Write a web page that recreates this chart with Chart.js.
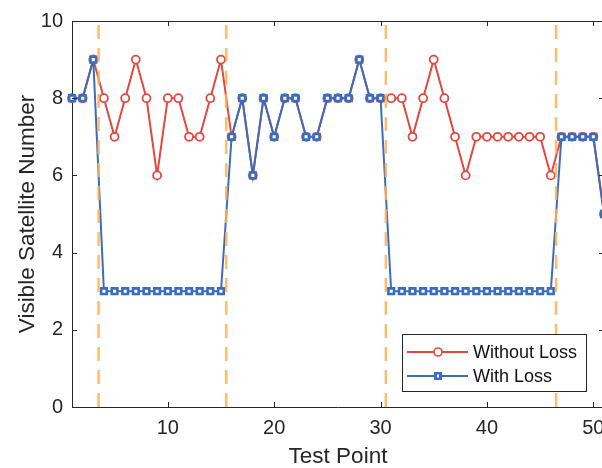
<!DOCTYPE html>
<html>
<head>
<meta charset="utf-8">
<script src="https://cdn.jsdelivr.net/npm/chart.js@4.4.0/dist/chart.umd.min.js"></script>
<style>
  html, body { margin: 0; padding: 0; background: #fff; overflow: hidden; }
  #wrap { width: 620px; height: 468px; }
</style>
</head>
<body>
<div id="wrap"><canvas id="chart"></canvas></div>
<script>
// Test points along the route
const testPoints = [1, 2, 3, 4, 5, 6, 7, 8, 9, 10, 11, 12, 13, 14, 15, 16, 17, 18, 19, 20,
  21, 22, 23, 24, 25, 26, 27, 28, 29, 30, 31, 32, 33, 34, 35, 36, 37, 38, 39, 40,
  41, 42, 43, 44, 45, 46, 47, 48, 49, 50, 51];

// Visible satellites, no signal loss
const withoutLoss = [8, 8, 9, 8, 7, 8, 9, 8, 6, 8, 8, 7, 7, 8, 9, 7, 8, 6, 8, 7,
  8, 8, 7, 7, 8, 8, 8, 9, 8, 8, 8, 8, 7, 8, 9, 8, 7, 6, 7, 7,
  7, 7, 7, 7, 7, 6, 7, 7, 7, 7, 5];

// Visible satellites with signal loss
const withLoss = [8, 8, 9, 3, 3, 3, 3, 3, 3, 3, 3, 3, 3, 3, 3, 7, 8, 6, 8, 7,
  8, 8, 7, 7, 8, 8, 8, 9, 8, 8, 3, 3, 3, 3, 3, 3, 3, 3, 3, 3,
  3, 3, 3, 3, 3, 3, 7, 7, 7, 7, 5];

// Boundaries of the blocked sections
const lossBounds = [3.5, 15.5, 30.5, 46.5];

const xTicks = [10, 20, 30, 40, 50];
const yTicks = [0, 2, 4, 6, 8, 10];

const COLORS = {
  red: '#e2483f',
  blue: '#3a6ebd',
  orange: 'rgba(252, 176, 88, 0.85)',
  axis: '#262626'
};

const FONT = 'Liberation Sans, Arial, Helvetica, sans-serif';

function toPoints(xs, ys) {
  return xs.map((x, i) => ({ x: x, y: ys[i] }));
}

const boundSets = lossBounds.map(b => ({
  label: 'bound',
  data: [{ x: b, y: yTicks[0] }, { x: b, y: yTicks[yTicks.length - 1] }],
  borderColor: COLORS.orange,
  borderWidth: 2.5,
  borderDash: [14, 9],
  pointRadius: 0,
  order: 0
}));

/**
 * Box, inward ticks and legend, drawn after the datasets
 */
const frame = {
  id: 'frame',
  afterDraw(chart) {
    const { ctx, chartArea: a, scales } = chart;
    ctx.save();
    ctx.strokeStyle = COLORS.axis;
    ctx.lineWidth = 1;
    ctx.beginPath();
    ctx.moveTo(a.left, a.top + 0.5);
    ctx.lineTo(a.right, a.top + 0.5);
    ctx.moveTo(a.right - 0.5, a.top);
    ctx.lineTo(a.right - 0.5, a.bottom);
    xTicks.forEach(v => {
      const px = Math.round(scales.x.getPixelForValue(v)) + 0.5;
      ctx.moveTo(px, a.bottom); ctx.lineTo(px, a.bottom - 5);
      ctx.moveTo(px, a.top); ctx.lineTo(px, a.top + 5);
    });
    yTicks.forEach(v => {
      const py = Math.round(scales.y.getPixelForValue(v)) + 0.5;
      ctx.moveTo(a.left, py); ctx.lineTo(a.left + 5, py);
      ctx.moveTo(a.right, py); ctx.lineTo(a.right - 5, py);
    });
    ctx.stroke();

    // legend box
    const bx = 402.5, by = 334.5, bw = 184, bh = 57;
    ctx.fillStyle = '#fff';
    ctx.fillRect(bx, by, bw, bh);
    ctx.strokeRect(bx, by, bw, bh);
    const rows = [
      { text: 'Without Loss', ds: chart.data.datasets[0], y: 352 },
      { text: 'With Loss', ds: chart.data.datasets[1], y: 376 }
    ];
    rows.forEach(r => {
      ctx.strokeStyle = r.ds.borderColor;
      ctx.lineWidth = 2;
      ctx.beginPath();
      ctx.moveTo(407, r.y);
      ctx.lineTo(468, r.y);
      ctx.stroke();
      ctx.lineWidth = 1.6;
      ctx.fillStyle = '#fff';
      if (r.ds.pointStyle === 'rect') {
        ctx.fillStyle = r.ds.borderColor;
        ctx.fillRect(434, r.y - 4, 8, 8);
        ctx.fillStyle = '#fff';
        ctx.fillRect(437, r.y - 1.5, 2, 3);
      } else {
        ctx.beginPath();
        ctx.arc(438, r.y, 4, 0, Math.PI * 2);
        ctx.fill();
        ctx.stroke();
      }
      ctx.fillStyle = '#111';
      ctx.font = '18px ' + FONT;
      ctx.textBaseline = 'middle';
      ctx.fillText(r.text, 473, r.y + 1);
    });
    ctx.restore();
  }
};

new Chart(document.getElementById('chart'), {
  type: 'line',
  data: {
    datasets: [
      {
        label: 'Without Loss',
        data: toPoints(testPoints, withoutLoss),
        borderColor: COLORS.red,
        backgroundColor: '#fff',
        borderWidth: 2,
        pointStyle: 'circle',
        pointRadius: 4,
        pointBorderWidth: 1.8,
        pointBackgroundColor: '#fff',
        order: 2
      },
      {
        label: 'With Loss',
        data: toPoints(testPoints, withLoss),
        borderColor: COLORS.blue,
        backgroundColor: COLORS.blue,
        borderWidth: 2,
        pointStyle: 'rect',
        pointRadius: 4,
        pointBorderWidth: 2.6,
        pointBackgroundColor: '#fff',
        order: 1
      },
      ...boundSets
    ]
  },
  options: {
    responsive: true,
    maintainAspectRatio: false,
    animation: false,
    events: [],
    clip: false,
    layout: { padding: { top: 20, right: 16, left: 10, bottom: -6 } },
    plugins: {
      legend: { display: false },
      tooltip: { enabled: false }
    },
    scales: {
      x: {
        type: 'linear',
        min: 1,
        max: 51,
        afterBuildTicks: s => { s.ticks = xTicks.map(v => ({ value: v })); },
        afterFit: s => { s.height = 67; },
        grid: { display: false, drawTicks: false },
        border: { display: true, color: COLORS.axis, width: 1 },
        ticks: { color: COLORS.axis, padding: 9, font: { family: FONT, size: 20 } },
        title: { display: true, text: 'Test Point', color: COLORS.axis, font: { family: FONT, size: 22.5 } }
      },
      y: {
        min: 0,
        max: 10,
        afterBuildTicks: s => { s.ticks = yTicks.map(v => ({ value: v })); },
        afterFit: s => { s.width = 62; },
        grid: { display: false, drawTicks: false },
        border: { display: true, color: COLORS.axis, width: 1 },
        ticks: { color: COLORS.axis, padding: 9, font: { family: FONT, size: 20 } },
        title: { display: true, text: 'Visible Satellite Number', color: COLORS.axis, font: { family: FONT, size: 22.5 } }
      }
    }
  },
  plugins: [frame]
});
</script>
</body>
</html>
